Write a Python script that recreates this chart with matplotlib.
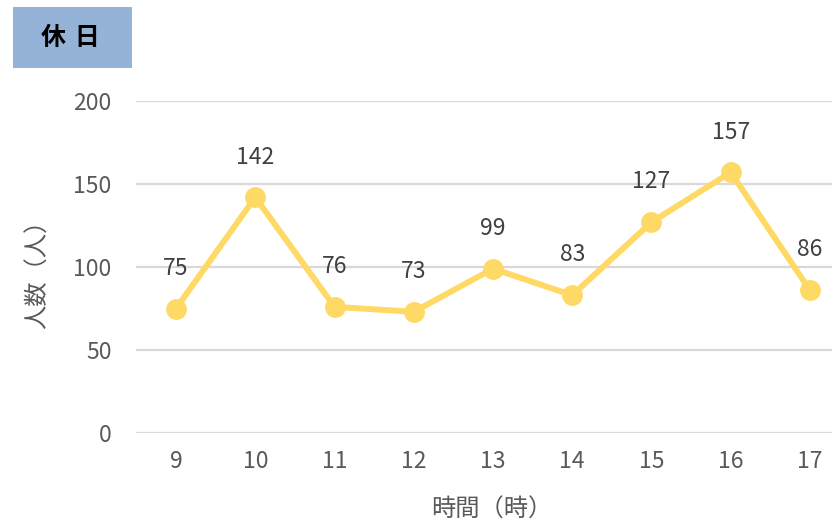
import matplotlib
matplotlib.use("Agg")
import matplotlib.pyplot as plt
from matplotlib.patches import Rectangle

plt.rcParams['font.family'] = ['Noto Sans CJK JP', 'DejaVu Sans']

hours = ["9", "10", "11", "12", "13", "14", "15", "16", "17"]
visitors = [75, 142, 76, 73, 99, 83, 127, 157, 86]
y_ticks = [0, 50, 100, 150, 200]
title = "休 日"
x_label = "時間（時）"
y_label = "人数（人）"

W, H = 832, 528
fig = plt.figure(figsize=(W / 100, H / 100), dpi=100)

left = 136.4 / W
width = 713.2 / W
bottom = (H - 433) / H
top = (H - 101) / H
ax = fig.add_axes([left, bottom, width, top - bottom])

x = list(range(len(hours)))
ax.plot(x, visitors, color="#FFD966", lw=4.3, marker="o", ms=14,
        solid_joinstyle="round", zorder=3, clip_on=False)
for xi, v in zip(x, visitors):
    ax.annotate(str(v), (xi, v), xytext=(0, 29), textcoords="offset points",
                ha="center", va="center", fontsize=16.5, color="#404040")

ax.set_xlim(-0.5, len(hours) - 0.5)
ax.set_ylim(0, 200)
ax.set_yticks(y_ticks)
ax.set_xticks(x)
ax.set_xticklabels(hours)
ax.tick_params(length=0, labelsize=16.5, labelcolor="#595959")
ax.tick_params(axis="x", pad=12)
ax.tick_params(axis="y", pad=18)
ax.grid(axis="y", color="#D9D9D9", lw=1.6)
ax.set_axisbelow(True)
for s in ax.spines.values():
    s.set_visible(False)

fig.text(38 / W, 1 - 268 / H, y_label, rotation=90, ha="center", va="center",
         fontsize=17.5, color="#595959")
fig.text(492 / W, 1 - 510 / H, x_label, ha="center", va="center",
         fontsize=17.5, color="#595959")

fig.patches.append(Rectangle((13 / W, 1 - 68 / H), 119 / W, 61 / H,
                             transform=fig.transFigure, facecolor="#95B3D7",
                             edgecolor="none", zorder=0))
fig.text(70 / W, 1 - 38 / H, title, ha="center", va="center",
         fontsize=18, fontweight="bold", color="black",
         family=['DejaVu Sans', 'Noto Sans CJK JP'])

fig.savefig("out.png", dpi=100)
